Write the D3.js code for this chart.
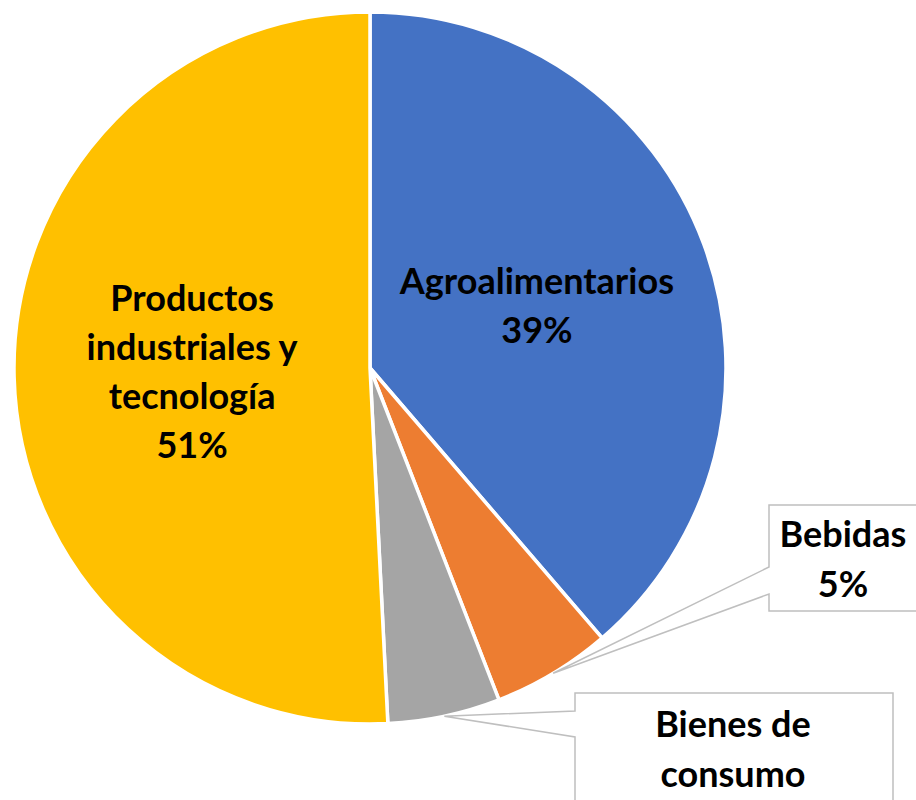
<!DOCTYPE html>
<html>
<head>
<meta charset="utf-8">
<script src="https://cdn.jsdelivr.net/npm/d3@7"></script>
<style>
  html, body { margin: 0; padding: 0; background: #fff; overflow: hidden; }
  text { font-family: Lato, "Open Sans", sans-serif; font-weight: 700; fill: #000; }
</style>
</head>
<body>
<svg id="chart" width="916" height="800"></svg>
<script>
const categories = ["Agroalimentarios", "Bebidas", "Bienes de consumo", "Productos industriales y tecnología"];
const values = [38.7, 5.4, 5.1, 50.8];
const colors = ["#4472C4", "#ED7D31", "#A5A5A5", "#FFC000"];
const labelLines = [
  ["Agroalimentarios"],
  ["Bebidas"],
  ["Bienes de", "consumo"],
  ["Productos", "industriales y", "tecnología"]
];

const width = 916, height = 800;
const cx = 370, cy = 368, radius = 356;
const fontSize = 36;
const lineHeight = 49;

const svg = d3.select("#chart");
const g = svg.append("g").attr("transform", `translate(${cx},${cy})`);

const data = categories.map((c, i) => ({ name: c, value: values[i], lines: labelLines[i], color: colors[i] }));
const total = d3.sum(values);
const pct = v => `${Math.round(v / total * 100)}%`;

const pie = d3.pie().value(d => d.value).sort(null);
const arc = d3.arc().innerRadius(0).outerRadius(radius);
const arcs = pie(data);

g.selectAll("path.slice")
  .data(arcs)
  .join("path")
  .attr("class", "slice")
  .attr("d", arc)
  .attr("fill", d => d.data.color)
  .attr("stroke", "#fff")
  .attr("stroke-width", 3.5)
  .attr("stroke-linejoin", "round");

// labels inside the big slices
const inside = arcs.filter(d => d.data.value > 20);
inside.forEach(d => {
  const [x, y] = arc.centroid(d);
  const lines = d.data.lines.concat(pct(d.data.value));
  const t = g.append("text")
    .attr("text-anchor", "middle")
    .attr("font-size", fontSize);
  const y0 = y - (lines.length - 1) * lineHeight / 2 + 12;
  lines.forEach((ln, i) => {
    t.append("tspan").attr("x", x).attr("y", y0 + i * lineHeight).text(ln);
  });
});

// callouts for the small slices (box in page coords)
const callouts = [
  { idx: 1, box: [769, 505, 960, 611], notch: [567, 594], textX: 843, textY: 547 },
  { idx: 2, box: [575, 693, 893, 860], notch: [711, 737], textX: 733, textY: 737 }
];

callouts.forEach(c => {
  const d = arcs[c.idx];
  const mid = (d.startAngle + d.endAngle) / 2;
  const tipX = cx + Math.sin(mid) * radius;
  const tipY = cy - Math.cos(mid) * radius;
  const [x0, y0, x1, y1] = c.box;
  const p = d3.path();
  p.moveTo(x0, y0);
  p.lineTo(x1, y0);
  p.lineTo(x1, y1);
  p.lineTo(x0, y1);
  p.lineTo(x0, c.notch[1]);
  p.lineTo(tipX, tipY);
  p.lineTo(x0, c.notch[0]);
  p.closePath();
  svg.append("path")
    .attr("d", p.toString())
    .attr("fill", "#fff")
    .attr("stroke", "#BFBFBF")
    .attr("stroke-width", 1.5);
  const lines = d.data.lines.concat(pct(d.data.value));
  const t = svg.append("text")
    .attr("text-anchor", "middle")
    .attr("font-size", fontSize);
  lines.forEach((ln, i) => {
    t.append("tspan").attr("x", c.textX).attr("y", c.textY + i * 50).text(ln);
  });
});
</script>
</body>
</html>
